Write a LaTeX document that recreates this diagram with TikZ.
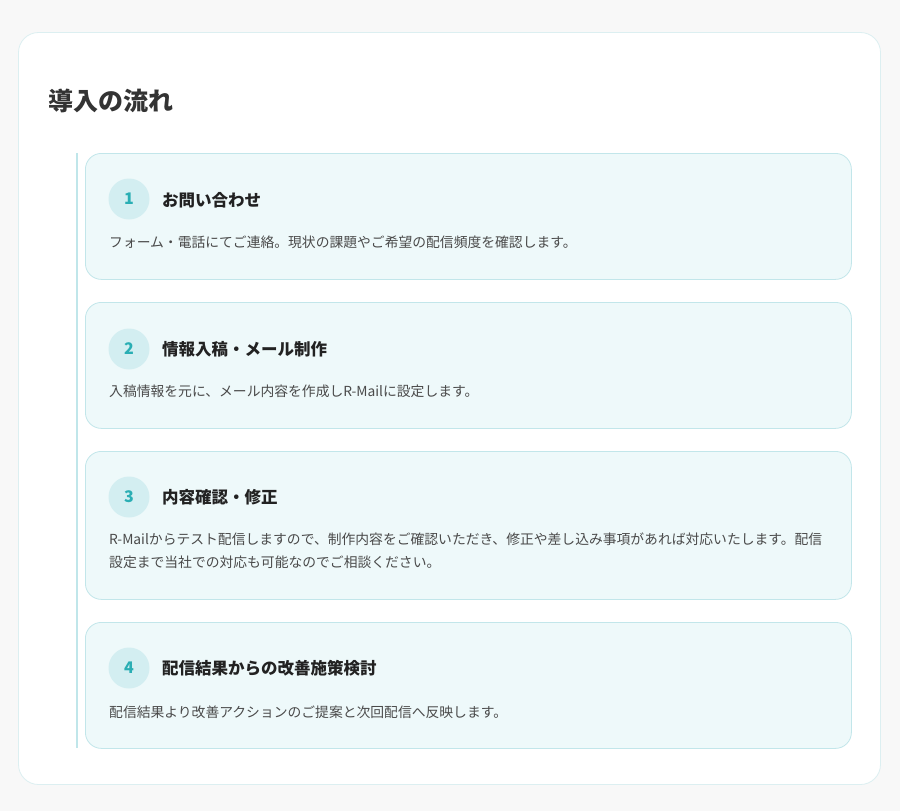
\documentclass[tikz,border=0pt]{standalone}
\usepackage{fontspec}
\setmainfont{Noto Sans CJK JP}
\usepackage{tikz}
\usetikzlibrary{calc}

\definecolor{pagebg}{HTML}{F8F8F8}
\definecolor{frameline}{HTML}{DCEFF1}
\definecolor{cardfill}{HTML}{EEF9FA}
\definecolor{cardline}{HTML}{C2E6EA}
\definecolor{numfill}{HTML}{D3EEF1}
\definecolor{numtext}{HTML}{2AAEB4}
\definecolor{headtext}{HTML}{333333}
\definecolor{titletext}{HTML}{222222}
\definecolor{desctext}{HTML}{4A4A4A}
\definecolor{timeline}{HTML}{C0E6EA}

\pgfdeclarelayer{back}
\pgfdeclarelayer{shade}
\pgfsetlayers{back,shade,main}

\tikzset{
  card/.style={draw=cardline, fill=cardfill, rounded corners=16pt, line width=0.8pt,
    minimum width=766pt, anchor=north west, inner sep=0pt},
  num/.style={circle, fill=numfill, minimum size=41pt, inner sep=0pt,
    text=numtext, font=\fontsize{16}{18}\selectfont\bfseries},
  steptitle/.style={anchor=west, inner sep=0pt, text=titletext, font=\fontsize{16.5}{18}\selectfont\bfseries},
  stepdesc/.style={anchor=west, inner sep=0pt, text=desctext, align=left,
    font=\fontsize{13.8}{23}\selectfont}
}

% soft shadow under a card node
\newcommand{\cardshade}[1]{%
  \begin{pgfonlayer}{shade}
    \foreach \s in {1,...,20}
      \fill[black, opacity=0.0012, rounded corners=16pt+\s pt]
        ($(#1.north west)+(-\s,-\s+5)$) rectangle ($(#1.south east)+(\s,\s+5)$);
  \end{pgfonlayer}}

\begin{document}
\begin{tikzpicture}[x=1pt,y=-1pt]
    \begin{pgfonlayer}{back}
    \fill[pagebg] (0,0) rectangle (900,811);
    % white frame
    \draw[frameline, fill=white, rounded corners=20pt, line width=0.8pt]
        (18.5,32.5) rectangle (880.5,784.5);
    \end{pgfonlayer}
    \useasboundingbox (0,0) rectangle (900,811);
    \node[anchor=west, inner sep=0pt, text=headtext, font=\fontsize{25}{28}\selectfont\bfseries]
        (heading) at (48,101) {導入の流れ};
    % timeline
    \coordinate (tltop) at (77,153);
    \coordinate (tlbot) at (77,748);
    \draw[timeline, line width=1.8pt] (tltop) -- (tlbot);

    % step 1
    \node[card, minimum height=126pt] (card1) at (85,153) {};
    \cardshade{card1}
    \node[num] (num1) at (129,199) {1};
    \node[steptitle] (title1) at (162,200) {お問い合わせ};
    \node[stepdesc] (desc1) at (109,242) {フォーム・電話にてご連絡。現状の課題やご希望の配信頻度を確認します。};

    % step 2
    \node[card, minimum height=126pt] (card2) at (85,302) {};
    \cardshade{card2}
    \node[num] (num2) at (129,349) {2};
    \node[steptitle] (title2) at (162,349) {情報入稿・メール制作};
    \node[stepdesc] (desc2) at (109,391) {入稿情報を元に、メール内容を作成しR-Mailに設定します。};

    % step 3
    \node[card, minimum height=148pt] (card3) at (85,451) {};
    \cardshade{card3}
    \node[num] (num3) at (129,497) {3};
    \node[steptitle] (title3) at (162,497) {内容確認・修正};
    \node[stepdesc] (desc3) at (109,551) {R-Mailからテスト配信しますので、制作内容をご確認いただき、修正や差し込み事項があれば対応いたします。配信\\設定まで当社での対応も可能なのでご相談ください。};

    % step 4
    \node[card, minimum height=126pt] (card4) at (85,622) {};
    \cardshade{card4}
    \node[num] (num4) at (129,668) {4};
    \node[steptitle] (title4) at (162,668) {配信結果からの改善施策検討};
    \node[stepdesc] (desc4) at (109,712) {配信結果より改善アクションのご提案と次回配信へ反映します。};
\end{tikzpicture}
\end{document}
